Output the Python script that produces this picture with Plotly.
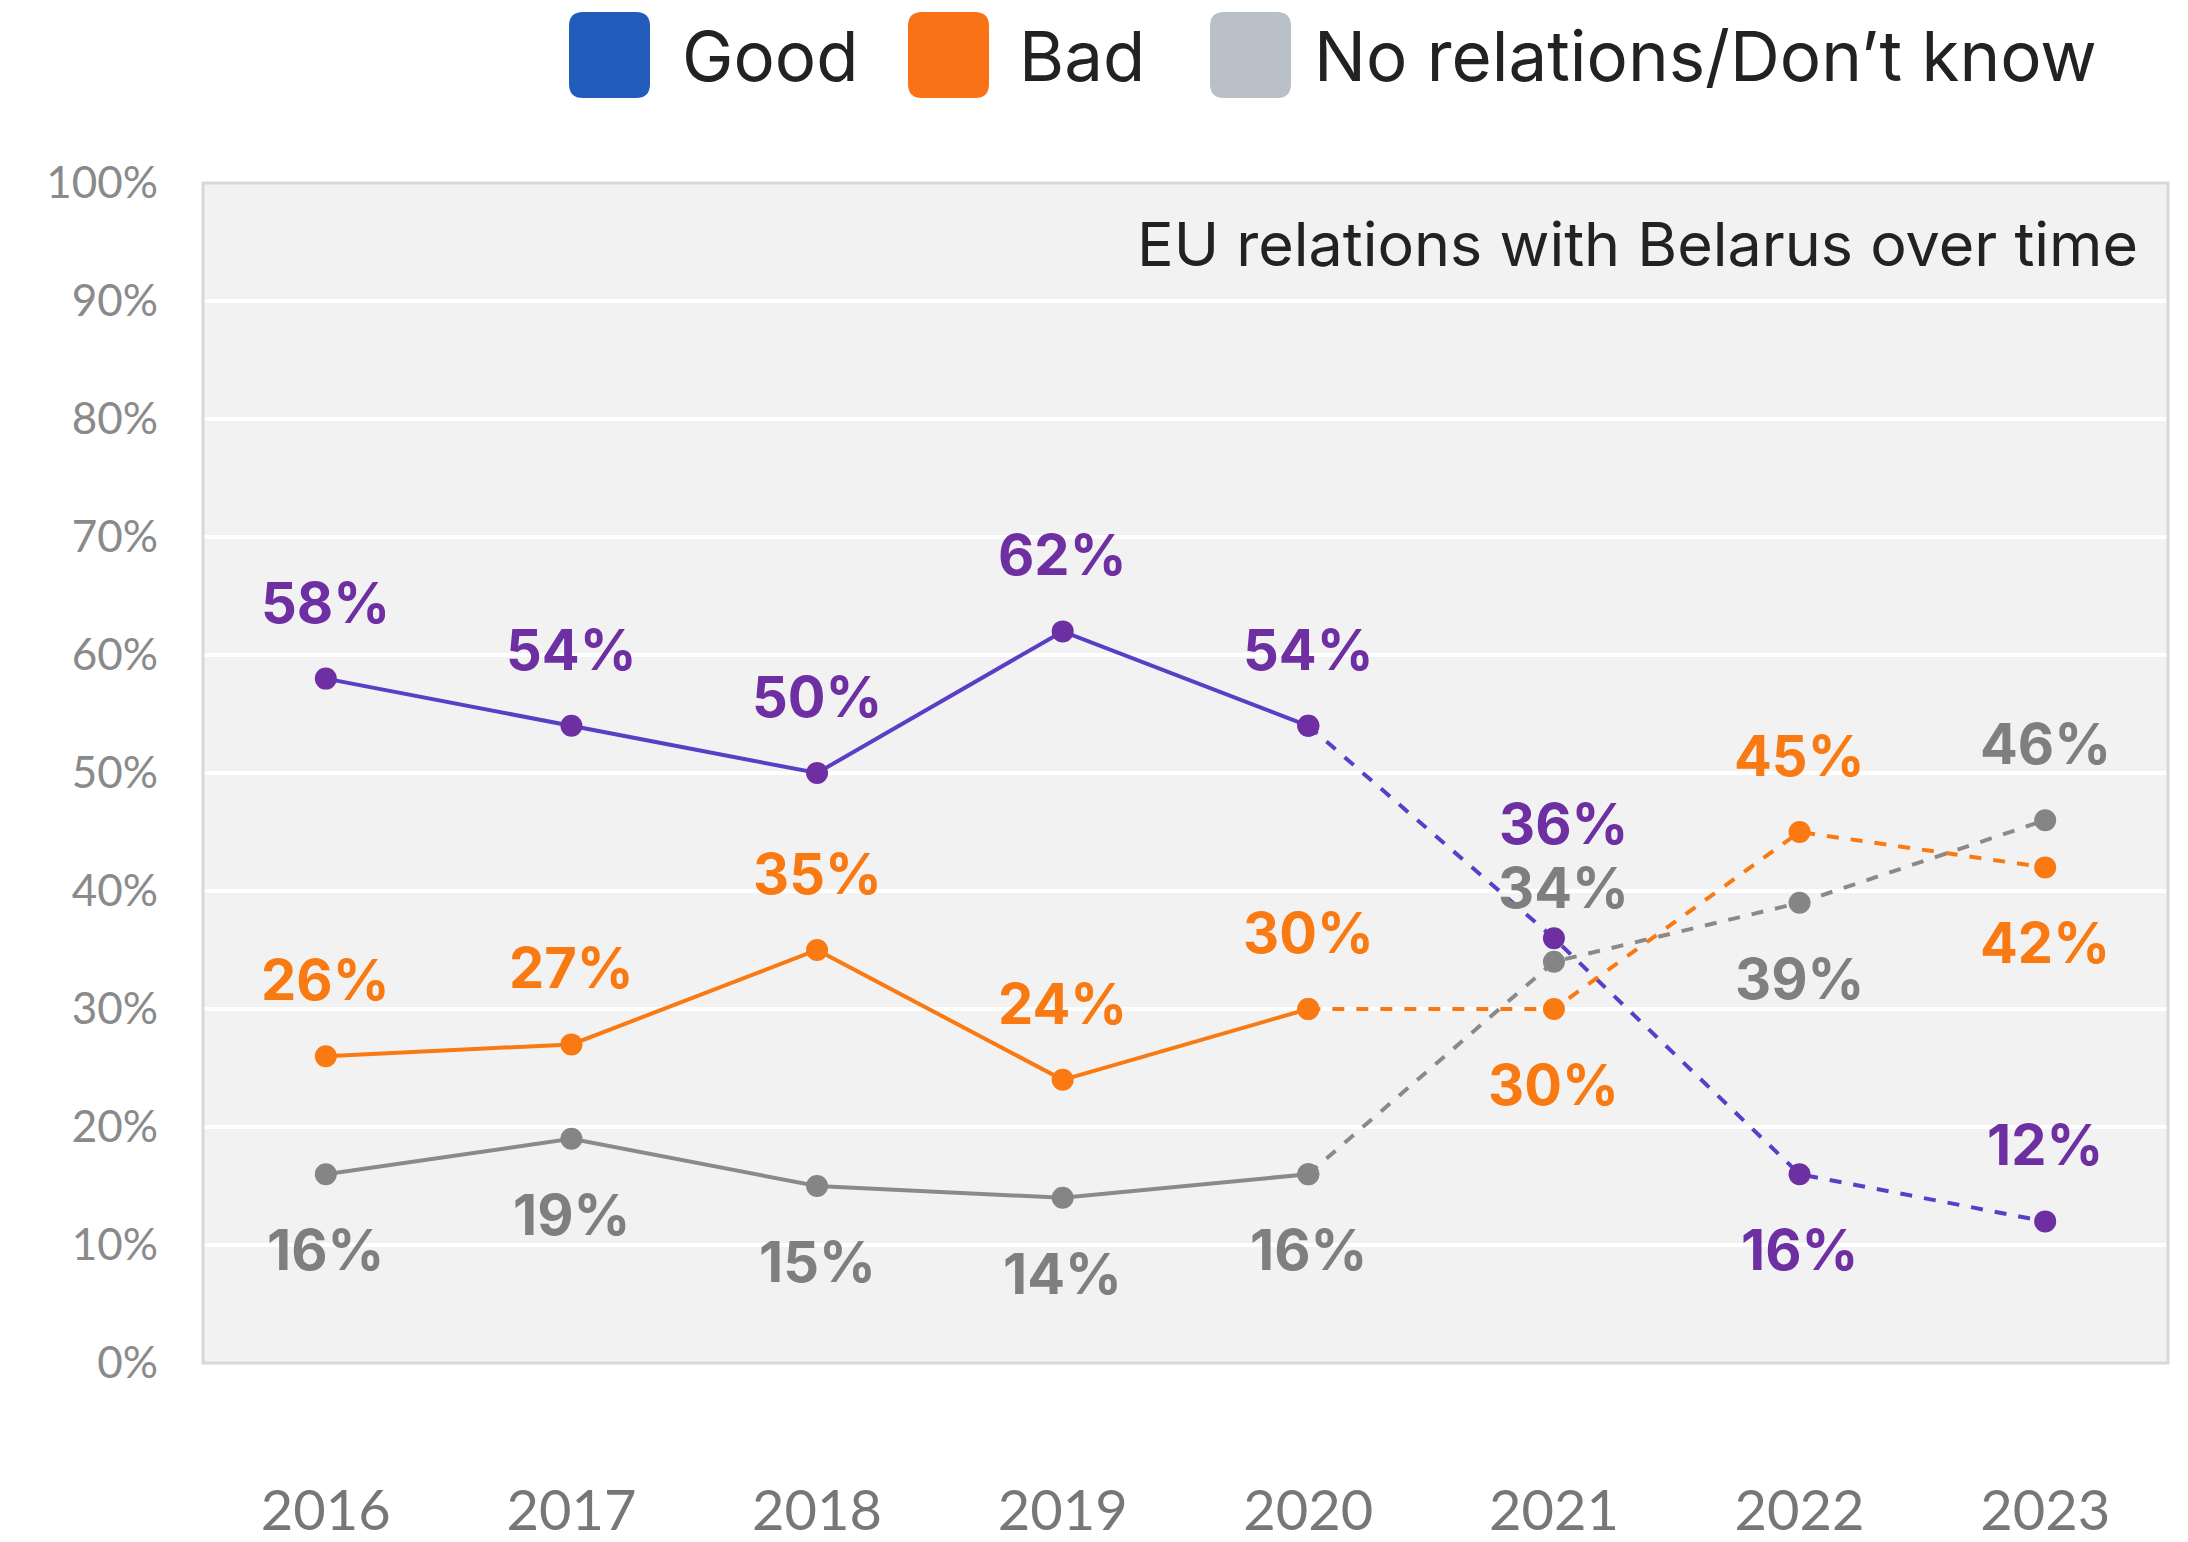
import plotly.graph_objects as go

# data
years = ["2016", "2017", "2018", "2019", "2020", "2021", "2022", "2023"]
good = [58, 54, 50, 62, 54, 36, 16, 12]
bad = [26, 27, 35, 24, 30, 30, 45, 42]
none_dk = [16, 19, 15, 14, 16, 34, 39, 46]

# where each value label sits relative to its point (+ above, - below)
good_side = [1, 1, 1, 1, 1, 1.5, -1, 1]
bad_side = [1, 1, 1, 1, 1, -1, 1, -1]
none_side = [-1, -1, -1, -1, -1, 0.97, -1, 1]

legend_names = ["Good", "Bad", "No relations/Don\u2019t know"]
legend_colors = ["#215cbb", "#f97316", "#b9c0c7"]

# the page body adds an 8px margin, so the figure is made that much smaller
OFF = 8
W, H = 2188 - OFF, 1542 - OFF
L, R, T, B = 203 - OFF, 20, 183 - OFF, 179
FONT = "Inter, Open Sans, sans-serif"

series = [
    (good, good_side, "#5b3ec6", "#6e2fa2", "#6e2fa2"),
    (bad, bad_side, "#f97a12", "#f97a12", "#f97a12"),
    (none_dk, none_side, "#8a8a8a", "#858585", "#7f7f7f"),
]

fig = go.Figure()
split = 4  # solid up to 2020, dashed afterwards
for vals, side, lcol, mcol, tcol in series:
    fig.add_trace(go.Scatter(
        x=years[:split + 1], y=vals[:split + 1], mode="lines+markers",
        line=dict(color=lcol, width=4),
        marker=dict(color=mcol, size=22), showlegend=False, hoverinfo="skip"))
    fig.add_trace(go.Scatter(
        x=years[split:], y=vals[split:], mode="lines+markers",
        line=dict(color=lcol, width=4, dash="dash"),
        marker=dict(color=mcol, size=22), showlegend=False, hoverinfo="skip"))
    # category index used as x so "2016" is not read as a number
    for i, (v, s) in enumerate(zip(vals, side)):
        fig.add_annotation(x=i, y=v, text=f"{v}%", showarrow=False,
                           yshift=76 * s, xshift=10 if i == 5 and s > 0 else 0,
                           font=dict(family=FONT, size=56, color=tcol, weight="bold"))


def px_to_paper(px, py):
    # px, py are screenshot pixels
    px, py = px - OFF, py - OFF
    return (px - L) / (W - L - R), (H - B - py) / (H - T - B)


def rounded_box(x0, y0, x1, y1, r):
    pts = [
        ("M", x0 + r, y0), ("L", x1 - r, y0), ("Q", x1, y0, x1, y0 + r),
        ("L", x1, y1 - r), ("Q", x1, y1, x1 - r, y1), ("L", x0 + r, y1),
        ("Q", x0, y1, x0, y1 - r), ("L", x0, y0 + r), ("Q", x0, y0, x0 + r, y0),
    ]
    out = []
    for p in pts:
        cmd, coords = p[0], p[1:]
        conv = []
        for i in range(0, len(coords), 2):
            a, b = px_to_paper(coords[i], coords[i + 1])
            conv.append(f"{a:.5f},{b:.5f}")
        out.append(cmd + " ".join(conv))
    return " ".join(out) + " Z"


# legend drawn as rounded swatches plus text
box_x = [569, 908, 1210]
text_x = [680, 1017, 1312]
for bx, tx, name, col in zip(box_x, text_x, legend_names, legend_colors):
    fig.add_shape(type="path", xref="paper", yref="paper",
                  path=rounded_box(bx, 12, bx + 81, 98, 14),
                  fillcolor=col, line=dict(width=0))
    ax, ay = px_to_paper(tx, 56)
    fig.add_annotation(xref="paper", yref="paper", x=ax, y=ay, text=name,
                       showarrow=False, xanchor="left", yanchor="middle",
                       font=dict(family=FONT, size=69, color="#222222"))

# chart title inside the plot area
tx, ty = px_to_paper(2140, 244)
fig.add_annotation(xref="paper", yref="paper", x=tx, y=ty,
                   text="EU relations with Belarus over time", showarrow=False,
                   xanchor="right", yanchor="middle",
                   font=dict(family=FONT, size=61, color="#222222"))

# plot frame
fig.add_shape(type="rect", xref="paper", yref="paper", x0=0, y0=0, x1=1, y1=1,
              line=dict(color="#d8d8d8", width=3), layer="above")

fig.update_layout(
    width=W, height=H,
    margin=dict(l=L, r=R, t=T, b=B),
    paper_bgcolor="white", plot_bgcolor="#f2f2f2",
    font=dict(family=FONT),
)
fig.update_xaxes(
    type="category", range=[-0.5, 7.5], showgrid=False, zeroline=False,
    ticks="", ticklabelstandoff=110, automargin=False,
    tickfont=dict(family="Lato, sans-serif", size=56, color="#777777"),
)
fig.update_yaxes(
    range=[0, 100], dtick=10, ticksuffix="%", showgrid=True,
    gridcolor="white", gridwidth=4, zeroline=False, ticks="",
    ticklabelstandoff=44, automargin=False,
    tickfont=dict(family="Lato, sans-serif", size=44, color="#8a8a8a"),
)

fig.write_html("out.html")
